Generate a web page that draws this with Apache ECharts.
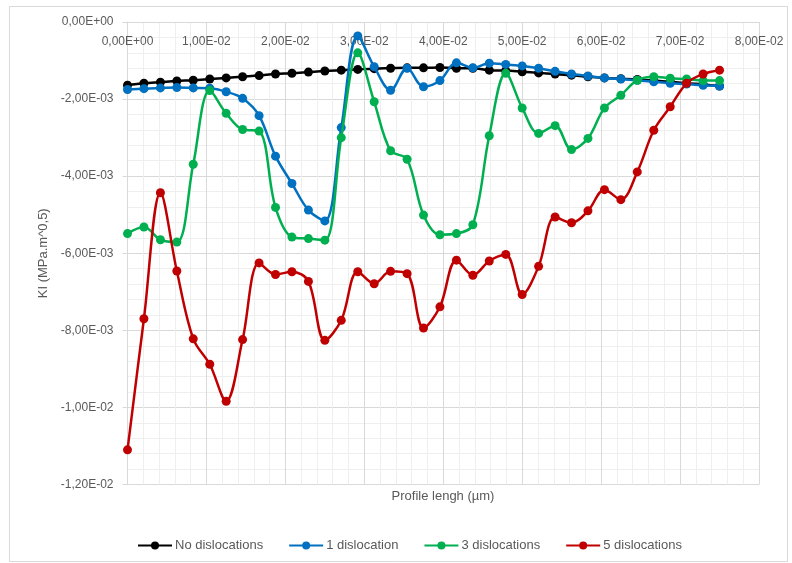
<!DOCTYPE html>
<html>
<head>
<meta charset="utf-8">
<script src="https://cdn.jsdelivr.net/npm/echarts@6/dist/echarts.min.js"></script>
<style>
html,body{margin:0;padding:0;background:#fff;}
#chart{width:792px;height:563px;}
</style>
</head>
<body>
<div id="chart"></div>
<script>
// Profile length positions
var xValues = [0, 0.00208, 0.00417, 0.00625, 0.00833, 0.01042, 0.0125, 0.01458, 0.01667, 0.01875,
  0.02083, 0.02292, 0.025, 0.02708, 0.02917, 0.03125, 0.03333, 0.03542, 0.0375, 0.03958,
  0.04167, 0.04375, 0.04583, 0.04792, 0.05, 0.05208, 0.05417, 0.05625, 0.05833, 0.06042,
  0.0625, 0.06458, 0.06667, 0.06875, 0.07083, 0.07292, 0.075];

var seriesNames = ['No dislocations', '1 dislocation', '3 dislocations', '5 dislocations'];

var noDislocations = [-1.64e-3, -1.59e-3, -1.56e-3, -1.53e-3, -1.51e-3, -1.48e-3, -1.45e-3, -1.42e-3, -1.39e-3, -1.35e-3,
  -1.33e-3, -1.30e-3, -1.27e-3, -1.25e-3, -1.23e-3, -1.21e-3, -1.20e-3, -1.19e-3, -1.19e-3, -1.18e-3,
  -1.20e-3, -1.20e-3, -1.25e-3, -1.26e-3, -1.29e-3, -1.32e-3, -1.35e-3, -1.38e-3, -1.42e-3, -1.45e-3,
  -1.47e-3, -1.49e-3, -1.52e-3, -1.55e-3, -1.59e-3, -1.62e-3, -1.66e-3];

var oneDislocation = [-1.75e-3, -1.73e-3, -1.71e-3, -1.70e-3, -1.71e-3, -1.72e-3, -1.81e-3, -1.98e-3, -2.43e-3, -3.48e-3,
  -4.19e-3, -4.88e-3, -5.16e-3, -2.74e-3, -0.36e-3, -1.16e-3, -1.77e-3, -1.20e-3, -1.68e-3, -1.52e-3,
  -1.06e-3, -1.19e-3, -1.07e-3, -1.10e-3, -1.14e-3, -1.20e-3, -1.28e-3, -1.35e-3, -1.40e-3, -1.45e-3,
  -1.48e-3, -1.51e-3, -1.55e-3, -1.59e-3, -1.61e-3, -1.64e-3, -1.66e-3];

var threeDislocations = [-5.49e-3, -5.32e-3, -5.65e-3, -5.71e-3, -3.69e-3, -1.78e-3, -2.37e-3, -2.79e-3, -2.83e-3, -4.81e-3,
  -5.58e-3, -5.62e-3, -5.66e-3, -3.00e-3, -0.80e-3, -2.07e-3, -3.34e-3, -3.56e-3, -5.01e-3, -5.52e-3,
  -5.49e-3, -5.26e-3, -2.95e-3, -1.33e-3, -2.23e-3, -2.89e-3, -2.69e-3, -3.31e-3, -3.02e-3, -2.23e-3,
  -1.90e-3, -1.51e-3, -1.42e-3, -1.46e-3, -1.48e-3, -1.52e-3, -1.52e-3];

var fiveDislocations = [-11.10e-3, -7.70e-3, -4.43e-3, -6.46e-3, -8.22e-3, -8.88e-3, -9.84e-3, -8.24e-3, -6.25e-3, -6.55e-3,
  -6.48e-3, -6.73e-3, -8.26e-3, -7.74e-3, -6.48e-3, -6.79e-3, -6.47e-3, -6.53e-3, -7.94e-3, -7.39e-3,
  -6.18e-3, -6.57e-3, -6.20e-3, -6.03e-3, -7.07e-3, -6.34e-3, -5.06e-3, -5.21e-3, -4.90e-3, -4.35e-3,
  -4.61e-3, -3.89e-3, -2.81e-3, -2.20e-3, -1.59e-3, -1.35e-3, -1.25e-3];

var colors = ['#000000', '#0070C0', '#00B050', '#C00000'];
var allValues = [noDislocations, oneDislocation, threeDislocations, fiveDislocations];

function fmt(v) {
  if (Math.abs(v) < 1e-12) v = 0;
  var s = Number(v).toExponential(2);
  var parts = s.split('e');
  var m = parts[0].replace('.', ',');
  var e = parts[1];
  var sign = e.charAt(0);
  var d = e.slice(1);
  if (d.length < 2) d = '0' + d;
  return m + 'E' + sign + d;
}

var FONT = '"Liberation Sans", Arial, sans-serif';
var chart = echarts.init(document.getElementById('chart'), null, {renderer: 'canvas'});

var series = seriesNames.map(function (name, k) {
  return {
    name: name,
    type: 'line',
    smooth: 0.35,
    symbol: 'circle',
    symbolSize: 9,
    showSymbol: true,
    lineStyle: {width: 2.5, color: colors[k]},
    itemStyle: {color: colors[k]},
    data: xValues.map(function (x, i) { return [x, allValues[k][i]]; }),
    z: 2 + k
  };
});

var option = {
  animation: false,
  backgroundColor: '#ffffff',
  textStyle: {fontFamily: FONT},
  grid: {left: 127.5, right: 33, top: 22, bottom: 78.5, containLabel: false},
  xAxis: {
    type: 'value',
    position: 'top',
    min: 0, max: 0.08, interval: 0.01,
    axisLine: {show: true, onZero: false, lineStyle: {color: '#d9d9d9', width: 1}},
    axisTick: {show: false},
    axisLabel: {inside: true, margin: 14, color: '#595959', fontSize: 12, fontFamily: FONT,
      formatter: fmt, showMaxLabel: true, showMinLabel: true, hideOverlap: false},
    splitLine: {show: true, lineStyle: {color: '#d9d9d9', width: 1}},
    minorTick: {show: false, splitNumber: 5},
    minorSplitLine: {show: true, lineStyle: {color: '#efefef', width: 1}}
  },
  yAxis: {
    type: 'value',
    min: -0.012, max: 0, interval: 0.002,
    name: 'KI (MPa.m^0,5)',
    nameLocation: 'middle',
    nameGap: 78,
    nameRotate: 90,
    nameTextStyle: {color: '#595959', fontSize: 13, fontFamily: FONT},
    axisLine: {show: true, onZero: false, lineStyle: {color: '#d9d9d9', width: 1}},
    axisTick: {show: true, length: 5, lineStyle: {color: '#d9d9d9'}},
    axisLabel: {color: '#595959', fontSize: 12, fontFamily: FONT, margin: 14, formatter: fmt},
    splitLine: {show: true, lineStyle: {color: '#d9d9d9', width: 1}},
    minorTick: {show: false, splitNumber: 5},
    minorSplitLine: {show: true, lineStyle: {color: '#efefef', width: 1}}
  },
  legend: {
    top: 534,
    left: 132,
    itemWidth: 34,
    itemHeight: 10,
    itemGap: 25,
    textStyle: {color: '#595959', fontSize: 13, fontFamily: FONT, padding: [0, 0, 0, -2]},
    data: seriesNames
  },
  graphic: [
    {type: 'rect', left: 7, top: 4, shape: {width: 778, height: 555},
      style: {fill: 'none', stroke: '#d9d9d9', lineWidth: 1}, silent: true, z: -10},
    {type: 'text', x: 443, y: 490, z: 10,
      style: {text: 'Profile lengh (µm)', fill: '#595959', font: '13px ' + FONT, textAlign: 'center'}}
  ],
  series: series
};
chart.setOption(option);
</script>
</body>
</html>
